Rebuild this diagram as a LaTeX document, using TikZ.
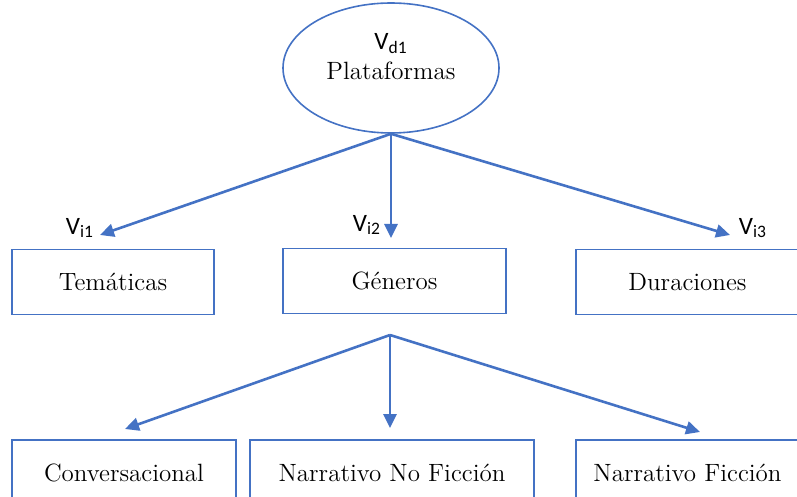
\documentclass[tikz,border=0pt]{standalone}
\usepackage{fontspec}
\usepackage{xcolor}
\usetikzlibrary{shapes.geometric,arrows.meta}
\newfontfamily\calibri{Carlito}
\definecolor{officeblue}{HTML}{4472C4}

\tikzset{
  caja/.style={draw=officeblue, line width=0.9pt, minimum height=32.5pt, inner sep=0pt, font=\fontsize{12.5}{14}\selectfont},
  flecha/.style={draw=officeblue, line width=1.3pt, -{Triangle[length=7pt,width=6.5pt]}},
  etiqueta/.style={font=\calibri\fontsize{12.5}{14}\selectfont, inner sep=0pt}
}

\begin{document}
\begin{tikzpicture}[x=0.5pt, y=-0.5pt]
\useasboundingbox (0,0) rectangle (797,497);
\clip (0,0) rectangle (797,497);

% Variable dependiente
\node[draw=officeblue, line width=0.8pt, ellipse, minimum width=108pt, minimum height=65pt] (plat) at (391,68) {};
\node[align=center, inner sep=0pt] (platname) at (391,57) {{\calibri\fontsize{12.5}{14}\selectfont V\textsubscript{d1}}\\[3pt]{\fontsize{12.5}{14}\selectfont Plataformas}};

% Variables independientes
\node[caja, minimum width=101pt] (tem) at (113,282) {Tem\'aticas};
\node[caja, minimum width=111.5pt] (gen) at (394.5,281) {G\'eneros};
\node[caja, minimum width=111.5pt] (dur) at (687.5,282) {Duraciones};

\node[caja, minimum width=112pt] (conv) at (124,472.5) {Conversacional};
\node[caja, minimum width=142pt] (nnf) at (392,472.5) {Narrativo No Ficci\'on};
\node[caja, minimum width=111.5pt] (nf) at (687.5,472.5) {Narrativo Ficci\'on};

% Puntas de las flechas
\coordinate (ti1) at (100,235);
\coordinate (ti2) at (391,238);
\coordinate (ti3) at (730,235);
\coordinate (genfork) at (390,335);
\coordinate (tc1) at (125,429);
\coordinate (tc2) at (390,428);
\coordinate (tc3) at (700,432);

\draw[flecha] (plat.south) -- (ti1);
\draw[flecha] (plat.south) -- (ti2);
\draw[flecha] (plat.south) -- (ti3);
\draw[flecha] (genfork) -- (tc1);
\draw[flecha] (genfork) -- (tc2);
\draw[flecha] (genfork) -- (tc3);

\node[etiqueta] (vi1) at (80,228) {V\textsubscript{i1}};
\node[etiqueta] (vi2) at (367,225) {V\textsubscript{i2}};
\node[etiqueta] (vi3) at (753,228) {V\textsubscript{i3}};

\end{tikzpicture}
\end{document}
